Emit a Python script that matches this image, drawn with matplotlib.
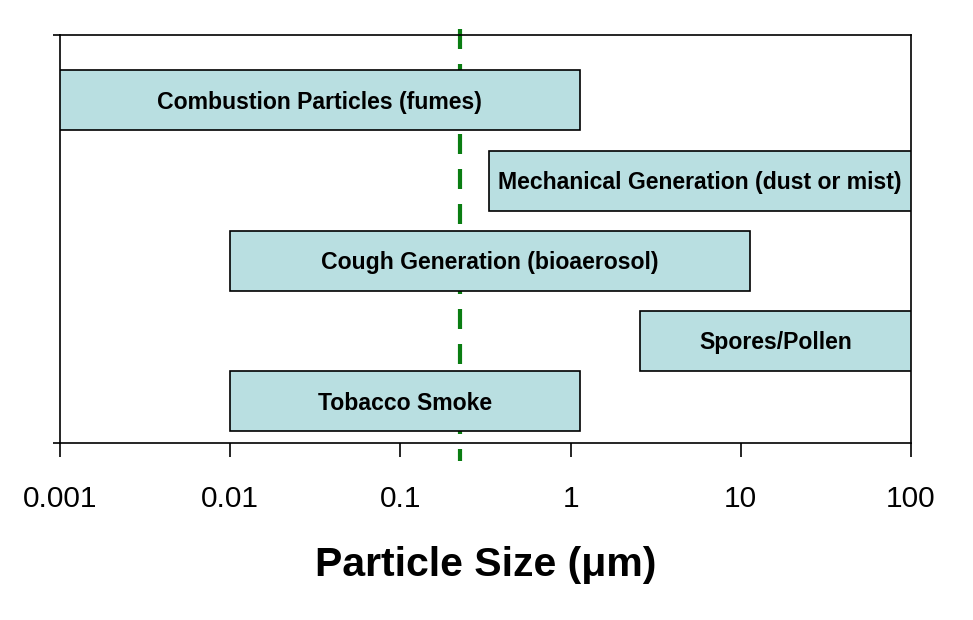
import numpy as np
import matplotlib.pyplot as plt

plt.rcParams['font.family'] = ['Liberation Sans', 'DejaVu Sans']

sources = ['Combustion Particles (fumes)', 'Mechanical Generation (dust or mist)',
           'Cough Generation (bioaerosol)', 'Spores/Pollen', 'Tobacco Smoke']
size_min = [0.001, 0.33, 0.01, 2.55, 0.01]
size_max = [1.13, 100, 11.3, 100, 1.13]
row_pos = [4.29, 3.28, 2.28, 1.28, 0.525]
cutoff = 0.224

fig = plt.figure(figsize=(9.73, 6.2), dpi=100)
ax = fig.add_axes([60 / 973, 177 / 620, 851 / 973, 408 / 620])

for name, lo, hi, y in zip(sources, size_min, size_max, row_pos):
    ax.barh(y, hi - lo, left=lo, height=0.75, color='#b9dfe1',
            edgecolor='black', linewidth=1.2, zorder=3)
    ax.text(np.sqrt(lo * hi), y - 0.03, name, ha='center', va='center',
            fontsize=16.6, fontweight='bold', zorder=4)

ax.set_xscale('log')
ax.set_xlim(0.001, 100)
ax.set_ylim(0, 5.1)
ax.set_xticks([0.001, 0.01, 0.1, 1, 10, 100])
ax.set_xticklabels(['0.001', '0.01', '0.1', '1', '10', '100'], fontsize=21.5)
ax.minorticks_off()
ax.set_yticks([0, 5.1])
ax.set_yticklabels([])
ax.tick_params(axis='x', length=10, width=1.2, pad=20)
ax.tick_params(axis='y', length=5, width=1.2)
for s in ax.spines.values():
    s.set_linewidth(1.2)

# dashed cutoff line, behind the bars, drawn top-down past the plot box
ax.plot([cutoff, cutoff], [5.17, -0.22], color='#0a7d12', linewidth=3,
        dashes=(4.8, 3.6), clip_on=False, zorder=2)

ax.set_xlabel('Particle Size (μm)', fontsize=29.5, fontweight='bold', labelpad=24)

fig.savefig('out.png', dpi=100)
